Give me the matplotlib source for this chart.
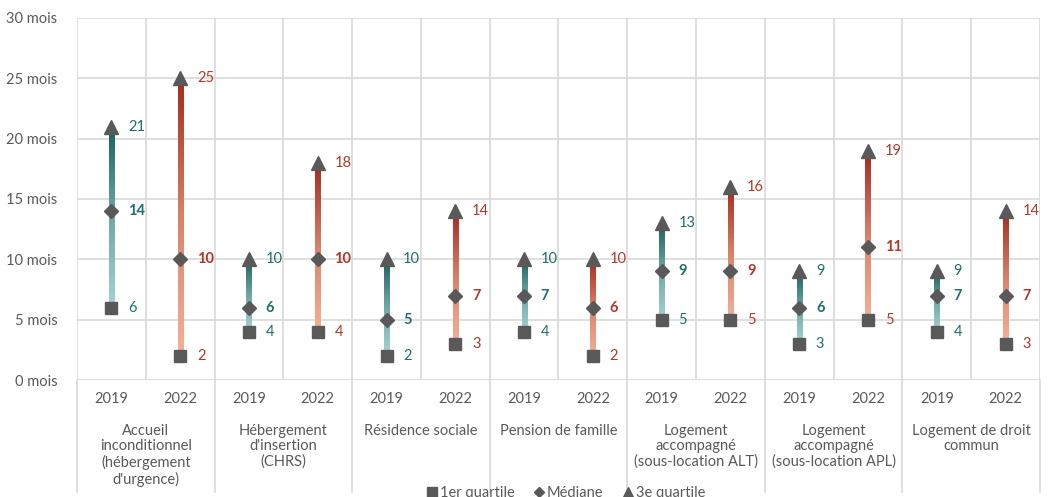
import matplotlib.pyplot as plt
import numpy as np
from matplotlib.colors import LinearSegmentedColormap
from matplotlib.lines import Line2D
from matplotlib.transforms import blended_transform_factory

plt.rcParams["font.family"] = ["Lato", "DejaVu Sans"]

categories = [
    "Accueil\ninconditionnel\n(hébergement\nd'urgence)",
    "Hébergement\nd'insertion\n(CHRS)",
    "Résidence sociale",
    "Pension de famille",
    "Logement\naccompagné\n(sous-location ALT)",
    "Logement\naccompagné\n(sous-location APL)",
    "Logement de droit\ncommun",
]
years = ["2019", "2022"]

q1_2019 = [6, 4, 2, 4, 5, 3, 4]
med_2019 = [14, 6, 5, 7, 9, 6, 7]
q3_2019 = [21, 10, 10, 10, 13, 9, 9]
q1_2022 = [2, 4, 3, 2, 5, 5, 3]
med_2022 = [10, 10, 7, 6, 9, 11, 7]
q3_2022 = [25, 18, 14, 10, 16, 19, 14]

GRID = "#d9d9d9"
MARK = "#595959"
TEXT = "#595959"
styles = {
    "2019": dict(cmap=LinearSegmentedColormap.from_list("t", ["#a5d4d0", "#6fa9a6", "#1b5f5f"]),
                 txt="#1f6e6e"),
    "2022": dict(cmap=LinearSegmentedColormap.from_list("r", ["#f5b196", "#d9826a", "#a5291c"]),
                 txt="#b0382a"),
}

fig = plt.figure(figsize=(10.49, 4.97), dpi=100)
ax = fig.add_axes([0.0734, 0.2354, 0.9180, 0.7284])
for s in ax.spines.values():
    s.set_visible(False)
ax.set_yticks(range(0, 31, 5))
ax.set_yticklabels([f"{v} mois" for v in range(0, 31, 5)], fontsize=10.5, color=TEXT)
ax.tick_params(axis="y", length=0, pad=14)
ax.set_xticks(range(15))
ax.set_xticklabels([])
ax.tick_params(axis="x", length=0)
ax.grid(True, color=GRID, linewidth=1.2)
ax.set_axisbelow(True)

trans = blended_transform_factory(ax.transData, ax.transAxes)
grad = np.linspace(0, 1, 256).reshape(-1, 1)
half_w = 0.037  # half of the bar line width, in column units


def draw_bar(x, q1, med, q3, st):
    ax.imshow(grad, cmap=st["cmap"], origin="lower", aspect="auto",
              extent=[x - half_w, x + half_w, q1, q3], interpolation="bilinear", zorder=2)
    ax.plot(x, q1, marker="s", ms=9, color=MARK, zorder=3)
    ax.plot(x, med, marker="D", ms=7.5, color=MARK, zorder=3)
    ax.plot(x, q3, marker="^", ms=10.5, color=MARK, zorder=3)
    for val, bold in [(q1, False), (med, True), (q3, False)]:
        ax.annotate(str(val), (x, val), xytext=(12, 0), textcoords="offset points",
                    va="center", ha="left", fontsize=10.5, color=st["txt"],
                    fontweight="bold" if bold else "normal", zorder=4)


for i in range(len(categories)):
    draw_bar(2 * i + 0.5, q1_2019[i], med_2019[i], q3_2019[i], styles["2019"])
    draw_bar(2 * i + 1.5, q1_2022[i], med_2022[i], q3_2022[i], styles["2022"])
    for j, yr in enumerate(years):
        ax.text(2 * i + 0.5 + j, -0.052, yr, transform=trans, ha="center", va="center",
                fontsize=10.5, color=TEXT)
    ax.text(2 * i + 1, -0.122, categories[i], transform=trans, ha="center", va="top",
            fontsize=10.5, color=TEXT, linespacing=1.12)

ax.set_xlim(0, 14)
ax.set_ylim(0, 30)

# category separators below the axis
for k in range(0, 15, 2):
    ax.plot([k, k], [0, -0.31], transform=trans, color=GRID, lw=1.2, clip_on=False)

handles = [
    Line2D([], [], marker="s", color=MARK, ls="none", ms=6.5, label="1er quartile"),
    Line2D([], [], marker="D", color=MARK, ls="none", ms=5.5, label="Médiane"),
    Line2D([], [], marker="^", color=MARK, ls="none", ms=7, label="3e quartile"),
]
fig.legend(handles=handles, loc="center", bbox_to_anchor=(0.540, 0.008), ncol=3,
           frameon=False, fontsize=10.5, handlelength=0.6, handletextpad=0.25,
           columnspacing=1.4, labelcolor=TEXT)

fig.savefig("out.png", dpi=100)
